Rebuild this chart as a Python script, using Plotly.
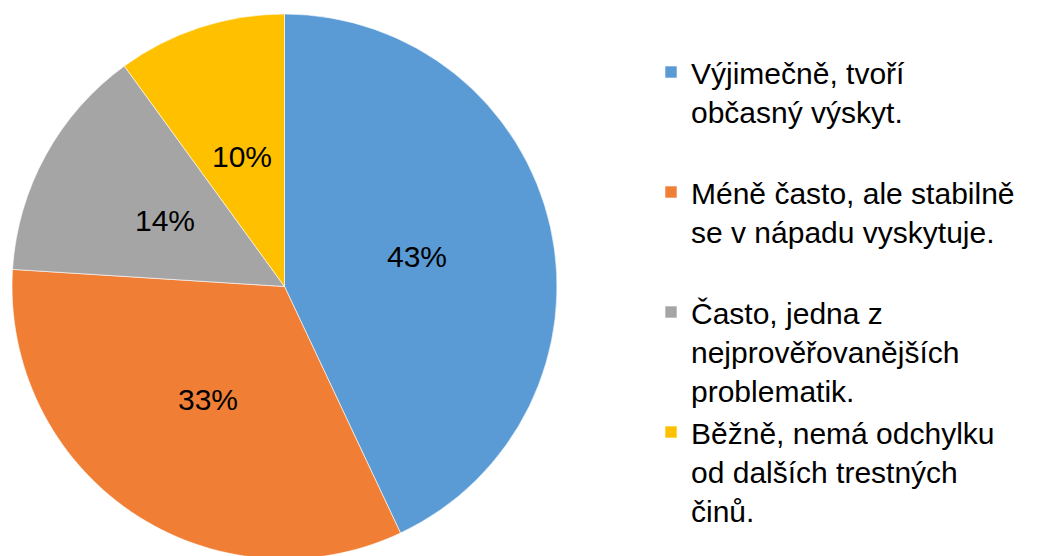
import math
import plotly.graph_objects as go

categories = [
    "Výjimečně, tvoří<br>občasný výskyt.<br> ",
    "Méně často, ale stabilně<br>se v nápadu vyskytuje.<br> ",
    "Často, jedna z<br>nejprověřovanějších<br>problematik.",
    "Běžně, nemá odchylku<br>od dalších trestných<br>činů.",
]
values = [43, 33, 14, 10]
colors = ["#5B9BD5", "#F07F35", "#A5A5A5", "#FFC000"]

FONT = "Liberation Sans, Arial, sans-serif"
W, H = 1040, 556
cx, cy, r = 276.5, 278.5, 272.5  # pie centre / radius in figure pixels
dom = dict(x=[(cx - r) / W, (cx + r) / W], y=[(H - cy - r) / H, (H - cy + r) / H])

fig = go.Figure(go.Pie(
    labels=categories,
    values=values,
    sort=False,
    direction="clockwise",
    rotation=0,
    marker=dict(colors=colors, line=dict(color="rgba(255,255,255,0.6)", width=1)),
    textinfo="none",
    domain=dom,
    hoverinfo="label+percent",
))

# data labels: percentage at half radius along each slice's mid-angle
total = sum(values)
cum = 0
for v in values:
    ang = math.radians((cum + v / 2) / total * 360)
    cum += v
    px = cx + 0.5 * r * math.sin(ang)
    py = cy - 0.5 * r * math.cos(ang)
    fig.add_annotation(
        x=px / W, y=1 - py / H, xref="paper", yref="paper",
        text=f"{round(v / total * 100)}%",
        showarrow=False, xanchor="center", yanchor="middle",
        font=dict(family=FONT, size=30, color="#000000"),
    )

fig.update_layout(
    width=W, height=H,
    margin=dict(l=0, r=0, t=0, b=0, autoexpand=False),
    paper_bgcolor="white",
    plot_bgcolor="white",
    showlegend=True,
    legend=dict(
        x=643 / W, xanchor="left",
        y=1 - 38 / H, yanchor="top",
        valign="top",
        font=dict(family=FONT, size=30, color="#000000"),
        bgcolor="rgba(0,0,0,0)",
    ),
)

fig.write_html("out.html")
